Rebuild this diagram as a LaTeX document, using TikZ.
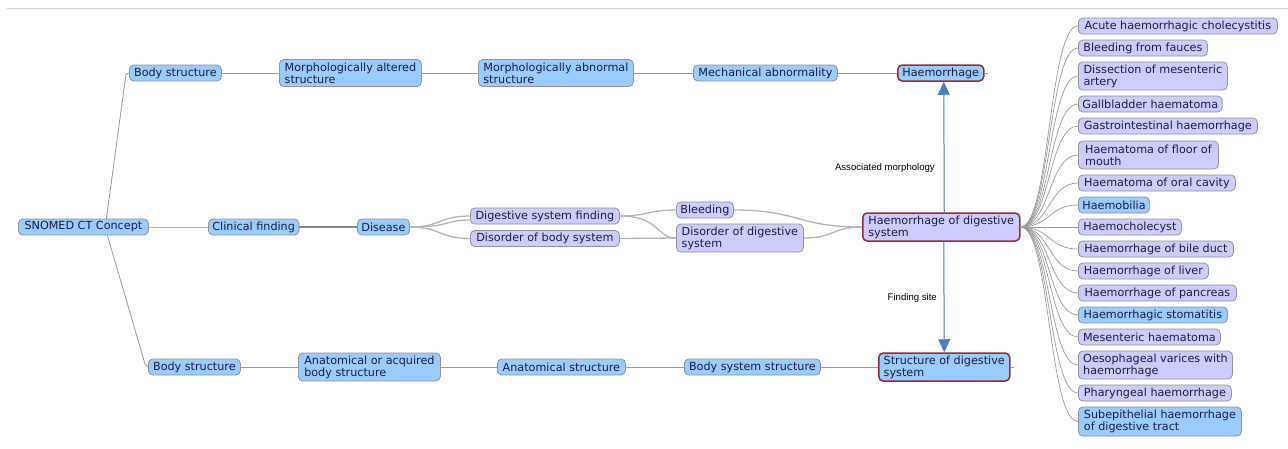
\documentclass[tikz,border=0pt]{standalone}
\usepackage{fontspec}
\setmainfont{DejaVu Sans}
\newfontfamily\lblfont{Liberation Sans}
\usetikzlibrary{arrows.meta}
\definecolor{bl}{HTML}{99CCFF}
\definecolor{lav}{HTML}{CCCCFF}
\definecolor{ndborder}{HTML}{939393}
\definecolor{hlred}{HTML}{A3282E}
\definecolor{edgegray}{HTML}{9A9A9A}
\definecolor{midgray}{HTML}{B4B4B4}
\definecolor{arrblue}{HTML}{4A7EC2}
\definecolor{txt}{HTML}{1C1C40}
\definecolor{sep}{HTML}{D0D0D0}
\begin{document}
\begin{tikzpicture}[x=1pt,y=-1pt,
  nd/.style={anchor=west, draw=ndborder, rounded corners=4.5pt, inner xsep=4pt, inner ysep=1pt,
    align=left, font=\fontsize{11.2}{12}\selectfont, text=txt, line width=0.8pt},
  bfill/.style={fill=bl},
  lfill/.style={fill=lav},
  hl/.style={draw=hlred, line width=1.5pt},
  ed/.style={draw=edgegray, line width=0.8pt},
  mid/.style={draw=midgray, line width=1.3pt},
  fan/.style={draw=edgegray, line width=0.7pt},
  rel/.style={draw=arrblue, line width=1pt, -{Triangle[length=13pt,width=12pt]}},
  rlabel/.style={anchor=east, font=\lblfont\fontsize{9.6}{11}\selectfont, text=black, inner sep=0pt}
]
\useasboundingbox (0,0) rectangle (1288,448);
\fill[white] (0,0) rectangle (1288,448);
\draw[sep, line width=1pt] (7,8) -- (1288,8);

% left column
\node[nd,bfill,minimum width=130pt,minimum height=16pt] (snomed) at (18,227) {SNOMED CT Concept};
\node[nd,bfill,minimum width=92pt,minimum height=16pt] (bs1) at (129,73) {Body structure};
\node[nd,bfill,minimum width=89pt,minimum height=16pt] (clin) at (208,227) {Clinical finding};
\node[nd,bfill,minimum width=92pt,minimum height=16pt] (bs2) at (148,367) {Body structure};

% top row
\node[nd,bfill,minimum width=142pt,minimum height=27pt] (mas) at (279,73) {Morphologically altered\\structure};
\node[nd,bfill,minimum width=155pt,minimum height=27pt] (mabs) at (478,73) {Morphologically abnormal\\structure};
\node[nd,bfill,minimum width=144pt,minimum height=16pt] (mech) at (693,73) {Mechanical abnormality};
\node[nd,bfill,hl,minimum width=86pt,minimum height=16pt] (haem) at (897,73) {Haemorrhage};

% middle row
\node[nd,bfill,minimum width=51pt,minimum height=16pt] (disease) at (357,227) {Disease};
\node[nd,lfill,minimum width=149pt,minimum height=16pt] (dsf) at (470,216) {Digestive system finding};
\node[nd,lfill,minimum width=149pt,minimum height=16pt] (dobs) at (470,238.5) {Disorder of body system};
\node[nd,lfill,minimum width=57pt,minimum height=16pt] (bleed) at (676,210) {Bleeding};
\node[nd,lfill,minimum width=127pt,minimum height=28pt] (dods) at (676,238) {Disorder of digestive\\system};
\node[nd,lfill,hl,minimum width=157pt,minimum height=28pt] (hods) at (862,227) {Haemorrhage of digestive\\system};

% bottom row
\node[nd,bfill,minimum width=142pt,minimum height=28pt] (aabs) at (298,367) {Anatomical or acquired\\body structure};
\node[nd,bfill,minimum width=128pt,minimum height=16pt] (anat) at (497,367) {Anatomical structure};
\node[nd,bfill,minimum width=136pt,minimum height=16pt] (bss) at (684,367) {Body system structure};
\node[nd,bfill,hl,minimum width=131pt,minimum height=28pt] (sds) at (878,367) {Structure of digestive\\system};

% children column
\node[nd,lfill,minimum width=199pt,minimum height=16pt] (c1) at (1078,26) {Acute haemorrhagic cholecystitis};
\node[nd,lfill,minimum width=129pt,minimum height=16pt] (c2) at (1078,48) {Bleeding from fauces};
\node[nd,lfill,minimum width=149pt,minimum height=28pt] (c3) at (1078,76) {Dissection of mesenteric\\artery};
\node[nd,lfill,minimum width=143pt,minimum height=16pt] (c4) at (1078,104) {Gallbladder haematoma};
\node[nd,lfill,minimum width=179pt,minimum height=16pt] (c5) at (1078,126) {Gastrointestinal haemorrhage};
\node[nd,lfill,minimum width=140pt,minimum height=28pt] (c6) at (1078,155) {Haematoma of floor of\\mouth};
\node[nd,lfill,minimum width=157pt,minimum height=16pt] (c7) at (1078,183) {Haematoma of oral cavity};
\node[nd,bfill,minimum width=71pt,minimum height=16pt] (c8) at (1078,205) {Haemobilia};
\node[nd,lfill,minimum width=103pt,minimum height=16pt] (c9) at (1078,227) {Haemocholecyst};
\node[nd,lfill,minimum width=155pt,minimum height=16pt] (c10) at (1078,249) {Haemorrhage of bile duct};
\node[nd,lfill,minimum width=130pt,minimum height=16pt] (c11) at (1078,271) {Haemorrhage of liver};
\node[nd,lfill,minimum width=158pt,minimum height=16pt] (c12) at (1078,293) {Haemorrhage of pancreas};
\node[nd,bfill,minimum width=149pt,minimum height=16pt] (c13) at (1078,315) {Haemorrhagic stomatitis};
\node[nd,lfill,minimum width=142pt,minimum height=16pt] (c14) at (1078,337) {Mesenteric haematoma};
\node[nd,lfill,minimum width=154pt,minimum height=28pt] (c15) at (1078,365) {Oesophageal varices with\\haemorrhage};
\node[nd,lfill,minimum width=153pt,minimum height=16pt] (c16) at (1078,393) {Pharyngeal haemorrhage};
\node[nd,bfill,minimum width=163pt,minimum height=29pt] (c17) at (1078,421.5) {Subepithelial haemorrhage\\of digestive tract};

% relation labels
\node[rlabel] (lam) at (935,168) {Associated morphology};
\node[rlabel] (lfs) at (937,298) {Finding site};

% left edges
\draw[ed] ([xshift=23pt]snomed.north) -- ([xshift=-3pt,yshift=-1pt]bs1.west) -- (bs1.west);
\draw[ed] ([xshift=24pt]snomed.south) -- ([xshift=-3pt,yshift=3pt]bs2.west) -- (bs2.west);
\draw[ed, draw=edgegray!75] (snomed.east) -- (clin.west);
\draw[ed, line width=1.2pt, draw=edgegray!120] (clin.east) -- (disease.west);

% top row edges
\draw[ed] (bs1.east) -- (mas.west);
\draw[ed] (mas.east) -- (mabs.west);
\draw[ed] (mabs.east) -- (mech.west);
\draw[ed] (mech.east) -- (haem.west);
\draw[ed] (haem.east) -- ++(3,0);

% middle edges
\draw[mid] (disease.east) .. controls +(31,0) and +(-31,0) .. (dsf.west);
\draw[mid] (disease.east) .. controls +(40,0) and +(-25,0) .. ([yshift=-4pt]dsf.west);
\draw[mid] (disease.east) .. controls +(31,0) and +(-31,0) .. (dobs.west);
\draw[mid] (dsf.east) .. controls +(28,0) and +(-28,0) .. (bleed.west);
\draw[mid] (dsf.east) .. controls +(40,0) and +(-20,0) .. (dods.west);
\draw[mid] (dobs.east) -- (dods.west);
\draw[mid] (bleed.east) .. controls +(65,0) and +(-65,0) .. (hods.west);
\draw[mid] (dods.east) .. controls +(30,0) and +(-30,0) .. (hods.west);

% bottom row edges
\draw[ed] (bs2.east) -- (aabs.west);
\draw[ed] (aabs.east) -- (anat.west);
\draw[ed] (anat.east) -- (bss.west);
\draw[ed] (bss.east) -- (sds.west);
\draw[ed] (sds.east) -- ++(3,0);

% fan
\foreach \i in {1,...,17}
  \draw[fan] (hods.east) .. controls +(29.5,0) and +(-29.5,0) .. (c\i.west);

% relationship arrows
\draw[rel] ([xshift=3pt]hods.north) -- ([xshift=3pt]haem.south);
\draw[rel] ([xshift=2.5pt]hods.south) -- (sds.north);
\end{tikzpicture}
\end{document}
